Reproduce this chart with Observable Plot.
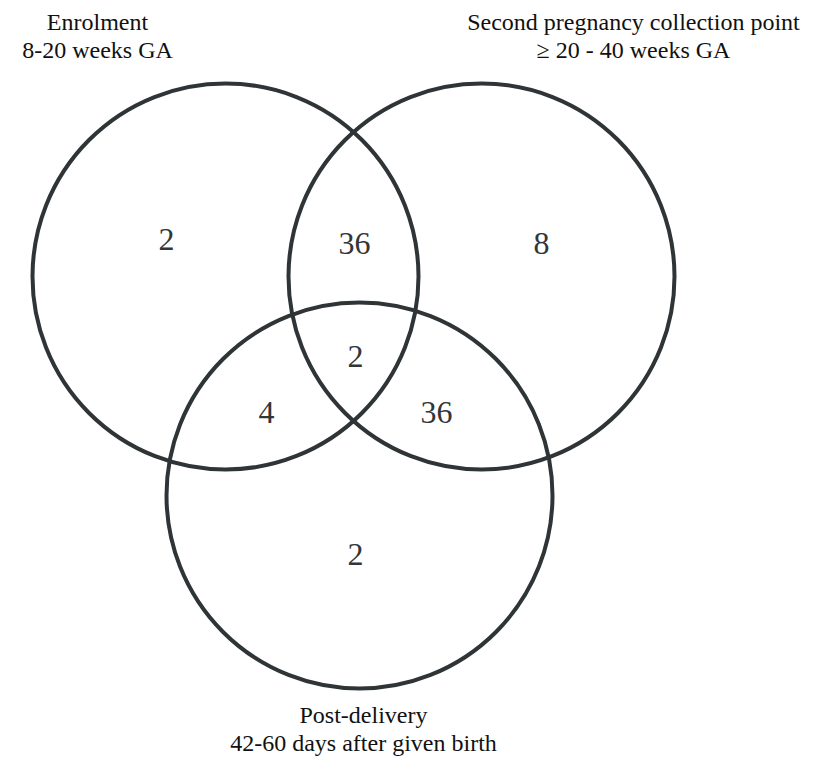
<!DOCTYPE html>
<html>
<head>
<meta charset="utf-8">
<script src="https://cdn.jsdelivr.net/npm/d3@7"></script>
<script src="https://cdn.jsdelivr.net/npm/@observablehq/plot@0.6"></script>
<style>
  html, body { margin: 0; padding: 0; background: #ffffff; }
  #chart svg { display: block; }
  #chart svg text, #chart svg tspan { font-family: "Liberation Serif", "Times New Roman", Times, "DejaVu Serif", serif !important; }
</style>
</head>
<body>
<div id="chart"></div>
<script>
// ---- Data ----
const setNames = ["Enrolment", "Second pregnancy collection point", "Post-delivery"];
const setPeriods = ["8-20 weeks GA", "\u2265 20 - 40 weeks GA", "42-60 days after given birth"];
const regionKeys = ["Enrolment only", "Enrolment & Second", "Second only", "All three", "Enrolment & Post", "Second & Post", "Post only"];
const regionCounts = [2, 36, 8, 2, 4, 36, 2];

// ---- Layout (diagram coordinate space) ----
const circleCx = [225, 481, 359];
const circleCy = [276, 276, 495];
const setLabelX = [97, 633, 363];
const setLabelY = [57, 57, 750];
const regionX = [166, 354, 541, 355, 266, 436, 355];
const regionY = [239, 243, 243, 356, 412, 412, 554];

const circles = setNames.map((name, i) => ({name, x: circleCx[i], y: circleCy[i]}));
const setLabels = setNames.map((name, i) => ({text: name + "\n" + setPeriods[i], x: setLabelX[i], y: setLabelY[i]}));
const regions = regionKeys.map((key, i) => ({key, count: regionCounts[i], x: regionX[i], y: regionY[i]}));

const serif = "'Liberation Serif', 'Times New Roman', Times, 'DejaVu Serif', serif";

const chart = Plot.plot({
  width: 826,
  height: 759,
  margin: 0,
  x: {domain: [0, 826], range: [0, 826], axis: null},
  y: {domain: [0, 759], range: [0, 759], axis: null},
  style: {background: "#ffffff", fontFamily: serif},
  marks: [
    Plot.dot(circles, {x: "x", y: "y", r: 193, fill: "none", stroke: "#2f3437", strokeWidth: 4}),
    Plot.text(regions, {x: "x", y: "y", text: d => String(d.count), fontSize: 32, fontFamily: serif, fill: "#333638", textAnchor: "middle"}),
    Plot.text(setLabels, {x: "x", y: "y", text: "text", fontSize: 24, fontFamily: serif, lineHeight: 28 / 24, lineAnchor: "bottom", fill: "#111111", textAnchor: "middle"})
  ]
});
document.getElementById("chart").appendChild(chart);
</script>
</body>
</html>
